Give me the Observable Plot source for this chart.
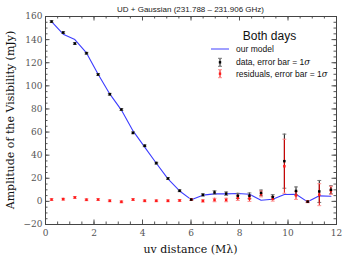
<!DOCTYPE html>
<html>
<head>
<meta charset="utf-8">
<script src="https://cdn.jsdelivr.net/npm/d3@7"></script>
<script src="https://cdn.jsdelivr.net/npm/@observablehq/plot@0.6"></script>
<style>
  html, body { margin: 0; padding: 0; background: #fff; }
</style>
</head>
<body>
<div id="chart"></div>
<script>
// uv distance (Mλ)
const uv = [0.25,0.73,1.21,1.69,2.17,2.65,3.13,3.61,4.09,4.57,5.05,5.53,6.01,6.49,6.97,7.45,7.93,8.41,8.89,9.37,9.85,10.33,10.81,11.29,11.77];
// observed amplitude (mJy)
const dataAmp = [155.6,146.1,136.6,128.2,109.8,92.7,79.5,59.3,48.1,33.1,19.8,9.2,1.6,5.6,7.7,6.7,4.8,4.8,7.3,3.8,34.8,9.0,-0.2,8.6,10.0];
// 1-sigma errors (mJy)
const sigma = [0.8,0.8,0.8,0.8,0.8,0.8,0.8,0.8,0.8,0.8,0.8,0.8,0.8,1.0,1.5,1.5,2.2,2.5,2.5,2.0,23.4,3.5,0.8,9.5,3.5];
// model amplitude (mJy)
const modelAmp = [155.6,144.7,140.0,128.5,110.0,93.0,79.0,61.0,47.0,33.0,19.5,9.0,1.5,5.4,6.5,6.5,6.8,6.2,1.0,1.9,6.0,6.2,-0.4,4.8,4.5];
// residuals (mJy)
const residAmp = [1.6,1.9,3.4,1.4,1.6,0.5,-0.4,1.6,0.5,0.5,0.5,0.8,1.6,0.4,1.2,1.2,3.0,2.5,6.4,2.2,30.4,5.2,-0.3,5.8,9.5];

const xTicks = [0,2,4,6,8,10,12];
const yTicks = [-20,0,20,40,60,80,100,120,140,160];
const xMinor = d3.range(0, 12.001, 0.5);
const yMinor = d3.range(-20, 160.001, 5);

const title = "UD + Gaussian (231.788 \u2013 231.906 GHz)";
const xLabel = "uv distance (M\u03bb)";
const yLabel = "Amplitude of the Visibility (mJy)";

const rows = uv.map((u, i) => ({
  uv: u, data: dataAmp[i], sig: sigma[i], model: modelAmp[i], resid: residAmp[i]
}));

const W = 349, H = 262, mL = 45, mR = 13, mT = 16, mB = 38;
const pw = W - mL - mR, ph = H - mT - mB;
const capW = 0.08;
const serif = "DejaVu Serif";
const sans = "Liberation Sans, Arial, sans-serif";

const chart = Plot.plot({
  width: W, height: H,
  marginLeft: mL, marginRight: mR, marginTop: mT, marginBottom: mB,
  x: {domain: [0, 12]},
  y: {domain: [-20, 160]},
  style: {background: "#fff", overflow: "visible"},
  marks: [
    // inward ticks on all sides
    Plot.tickX(xMinor, {x: d => d, insetTop: ph - 2.5, stroke: "#555"}),
    Plot.tickX(xMinor, {x: d => d, insetBottom: ph - 2.5, stroke: "#555"}),
    Plot.tickX(xTicks, {x: d => d, insetTop: ph - 4.5, stroke: "#555"}),
    Plot.tickX(xTicks, {x: d => d, insetBottom: ph - 4.5, stroke: "#555"}),
    Plot.tickY(yMinor, {y: d => d, insetRight: pw - 2.5, stroke: "#555"}),
    Plot.tickY(yMinor, {y: d => d, insetLeft: pw - 2.5, stroke: "#555"}),
    Plot.tickY(yTicks, {y: d => d, insetRight: pw - 4.5, stroke: "#555"}),
    Plot.tickY(yTicks, {y: d => d, insetLeft: pw - 4.5, stroke: "#555"}),
    Plot.axisX({ticks: xTicks, tickSize: 0, tickPadding: 5, label: null, fontFamily: serif, fontSize: 9, color: "#555"}),
    Plot.axisY({ticks: yTicks, tickSize: 0, tickPadding: 3, label: null, fontFamily: serif, fontSize: 9, color: "#555"}),
    // model
    Plot.line(rows, {x: "uv", y: "model", stroke: "#3c3cff", strokeWidth: 1.1}),
    // data error bars
    Plot.ruleX(rows, {x: "uv", y1: d => d.data - d.sig, y2: d => d.data + d.sig, stroke: "#111", strokeWidth: 1}),
    Plot.link(rows, {x1: d => d.uv - capW, x2: d => d.uv + capW, y1: d => d.data - d.sig, y2: d => d.data - d.sig, stroke: "#777"}),
    Plot.link(rows, {x1: d => d.uv - capW, x2: d => d.uv + capW, y1: d => d.data + d.sig, y2: d => d.data + d.sig, stroke: "#777"}),
    // residual error bars
    Plot.ruleX(rows, {x: "uv", y1: d => d.resid - d.sig, y2: d => d.resid + d.sig, stroke: "#e00000", strokeWidth: 1}),
    Plot.link(rows, {x1: d => d.uv - capW, x2: d => d.uv + capW, y1: d => d.resid - d.sig, y2: d => d.resid - d.sig, stroke: "#ff9090"}),
    Plot.link(rows, {x1: d => d.uv - capW, x2: d => d.uv + capW, y1: d => d.resid + d.sig, y2: d => d.resid + d.sig, stroke: "#ff9090"}),
    Plot.dot(rows, {x: "uv", y: "resid", symbol: "square", r: 1.4, fill: "#ff1a1a"}),
    Plot.dot(rows, {x: "uv", y: "data", symbol: "square", r: 1.4, fill: "#000"}),
    Plot.frame({stroke: "#444", strokeWidth: 1})
  ]
});

const svg = d3.select(chart);
// title
svg.append("text").attr("x", mL + pw / 2).attr("y", 12).attr("text-anchor", "middle")
  .attr("font-family", sans).attr("font-size", 8).attr("fill", "#222").text(title);
// axis labels
svg.append("text").attr("x", mL + pw / 2).attr("y", 249).attr("text-anchor", "middle")
  .attr("dominant-baseline", "central")
  .attr("font-family", serif).attr("font-size", 11).attr("fill", "#111").text(xLabel);
svg.append("text").attr("transform", `translate(10,${mT + ph / 2}) rotate(-90)`)
  .attr("text-anchor", "middle").attr("dominant-baseline", "central")
  .attr("font-family", serif).attr("font-size", 11).attr("fill", "#111").text(yLabel);

// legend
const lg = svg.append("g");
lg.append("text").attr("x", 269.5).attr("y", 36).attr("text-anchor", "middle")
  .attr("dominant-baseline", "central").attr("font-family", sans).attr("font-size", 12)
  .attr("fill", "#111").text("Both days");
lg.append("line").attr("x1", 211).attr("x2", 229).attr("y1", 49).attr("y2", 49)
  .attr("stroke", "#8080ff").attr("stroke-width", 1.5);
function errIcon(y, stroke, cap, fill) {
  lg.append("line").attr("x1", 220).attr("x2", 220).attr("y1", y - 4).attr("y2", y + 4).attr("stroke", stroke);
  lg.append("line").attr("x1", 218).attr("x2", 222).attr("y1", y - 4).attr("y2", y - 4).attr("stroke", cap);
  lg.append("line").attr("x1", 218).attr("x2", 222).attr("y1", y + 4).attr("y2", y + 4).attr("stroke", cap);
  lg.append("rect").attr("x", 218.8).attr("y", y - 1.2).attr("width", 2.4).attr("height", 2.4).attr("fill", fill);
}
errIcon(62.3, "#111", "#777", "#000");
errIcon(73.7, "#e00000", "#ff9090", "#ff1a1a");
const entries = [["our model", 49, false], ["data, error bar = 1", 62.3, true], ["residuals, error bar = 1", 73.7, true]];
for (const [t, y, sig] of entries) {
  const tx = lg.append("text").attr("x", 236).attr("y", y).attr("text-anchor", "start")
    .attr("dominant-baseline", "central")
    .attr("font-family", sans).attr("font-size", 8.5).attr("fill", "#111").text(t);
  if (sig) tx.append("tspan").attr("font-family", serif).attr("font-style", "italic").text("\u03c3");
}

document.getElementById("chart").appendChild(chart);
</script>
</body>
</html>
